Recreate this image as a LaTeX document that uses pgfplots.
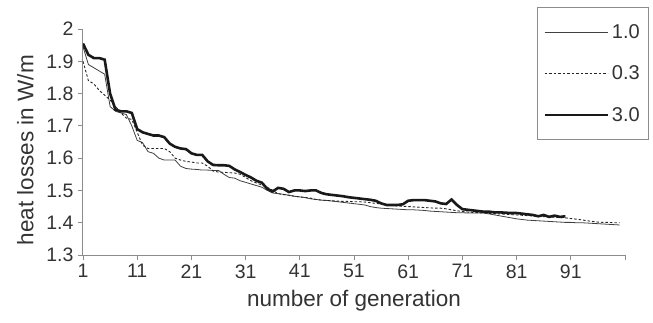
\documentclass[border=0pt]{standalone}
\usepackage{pgfplots}
\pgfplotsset{compat=1.18}
\usepackage{fontspec}
\setmainfont{Liberation Sans}
\definecolor{axgray}{RGB}{140,140,140}
\begin{document}
\begin{tikzpicture}
\begin{axis}[
  name=ax,
  scale only axis,
  width=542pt, height=226pt,
  xmin=1, xmax=101, ymin=1.3, ymax=2.0,
  axis lines=left,
  axis line style={axgray, line width=1pt, -},
  xtick={1,11,21,31,41,51,61,71,81,91,101},
  xticklabels={1,11,21,31,41,51,61,71,81,91,{}},
  ytick={1.3,1.4,1.5,1.6,1.7,1.8,1.9,2.0},
  yticklabels={1.3,1.4,1.5,1.6,1.7,1.8,1.9,2},
  tick align=outside,
  major tick length=5pt,
  tick style={axgray, line width=0.8pt},
  tick label style={font=\fontsize{19.5}{22}\selectfont, text=black!80},
  /pgf/number format/assume math mode=true,
  xticklabel style={yshift=-1pt},
  yticklabel style={xshift=-1pt},
  xlabel={number of generation},
  ylabel={heat losses in W/m},
  label style={font=\fontsize{22.5}{25}\selectfont, text=black!80},
  xlabel style={yshift=-5pt},
  ylabel style={yshift=6pt, xshift=-8pt},
  legend cell align=left,
  legend style={at={(0.8376,1.0973)}, anchor=north west, draw=axgray, line width=0.8pt,
    font=\fontsize{20}{22}\selectfont, text=black!80, row sep=20pt,
    inner xsep=6pt, inner ysep=14pt,
    nodes={inner sep=3pt}},
  legend image code/.code={\draw[#1] (0pt,0pt) -- (63pt,0pt);},
  legend style={cells={xshift=3pt}},
]
\addplot[black!75, line width=0.8pt] coordinates {
(1,1.945)(2,1.89)(3,1.88)(4,1.87)(5,1.86)(6,1.76)(7,1.745)(8,1.74)(9,1.735)(10,1.70)
(11,1.655)(12,1.648)(13,1.62)(14,1.615)(15,1.60)(16,1.594)(17,1.594)(18,1.594)(19,1.575)(20,1.568)
(21,1.566)(22,1.565)(23,1.563)(24,1.563)(25,1.562)(26,1.562)(27,1.55)(28,1.54)(29,1.538)(30,1.53)
(31,1.525)(32,1.52)(33,1.515)(34,1.51)(35,1.50)(36,1.492)(37,1.49)(38,1.488)(39,1.485)(40,1.482)
(41,1.48)(42,1.478)(43,1.474)(44,1.472)(45,1.47)(46,1.469)(47,1.467)(48,1.465)(49,1.463)(50,1.461)
(51,1.459)(52,1.457)(53,1.455)(54,1.45)(55,1.447)(56,1.445)(57,1.444)(58,1.443)(59,1.442)(60,1.441)
(61,1.44)(62,1.44)(63,1.439)(64,1.438)(65,1.436)(66,1.435)(67,1.434)(68,1.433)(69,1.432)(70,1.431)
(71,1.431)(72,1.43)(73,1.43)(74,1.43)(75,1.43)(76,1.427)(77,1.424)(78,1.421)(79,1.418)(80,1.415)
(81,1.412)(82,1.41)(83,1.408)(84,1.407)(85,1.406)(86,1.405)(87,1.404)(88,1.403)(89,1.402)(90,1.401)
(91,1.401)(92,1.40)(93,1.40)(94,1.399)(95,1.398)(96,1.397)(97,1.396)(98,1.395)(99,1.394)(100,1.393)
};
\addlegendentry{1.0}
\addplot[black!85, line width=0.9pt, dash pattern=on 2.5pt off 2pt] coordinates {
(1,1.90)(2,1.84)(3,1.83)(4,1.81)(5,1.795)(6,1.78)(7,1.76)(8,1.74)(9,1.724)(10,1.72)
(11,1.68)(12,1.64)(13,1.63)(14,1.63)(15,1.63)(16,1.63)(17,1.62)(18,1.60)(19,1.594)(20,1.59)
(21,1.588)(22,1.585)(23,1.585)(24,1.575)(25,1.56)(26,1.557)(27,1.556)(28,1.555)(29,1.554)(30,1.55)
(31,1.54)(32,1.53)(33,1.523)(34,1.517)(35,1.51)(36,1.50)(37,1.49)(38,1.487)(39,1.485)(40,1.482)
(41,1.48)(42,1.478)(43,1.476)(44,1.472)(45,1.47)(46,1.469)(47,1.468)(48,1.467)(49,1.466)(50,1.466)
(51,1.465)(52,1.465)(53,1.464)(54,1.462)(55,1.46)(56,1.458)(57,1.455)(58,1.454)(59,1.452)(60,1.451)
(61,1.45)(62,1.449)(63,1.448)(64,1.447)(65,1.446)(66,1.445)(67,1.445)(68,1.443)(69,1.44)(70,1.437)
(71,1.435)(72,1.433)(73,1.432)(74,1.431)(75,1.43)(76,1.429)(77,1.428)(78,1.427)(79,1.426)(80,1.425)
(81,1.424)(82,1.423)(83,1.422)(84,1.421)(85,1.42)(86,1.419)(87,1.418)(88,1.417)(89,1.416)(90,1.415)
(91,1.413)(92,1.411)(93,1.409)(94,1.406)(95,1.404)(96,1.402)(97,1.401)(98,1.401)(99,1.40)(100,1.40)
};
\addlegendentry{0.3}
\addplot[black!90, line width=2.6pt] coordinates {
(1,1.955)(2,1.92)(3,1.91)(4,1.91)(5,1.905)(6,1.80)(7,1.75)(8,1.745)(9,1.745)(10,1.74)
(11,1.69)(12,1.68)(13,1.675)(14,1.67)(15,1.67)(16,1.665)(17,1.645)(18,1.635)(19,1.63)(20,1.628)
(21,1.615)(22,1.61)(23,1.61)(24,1.59)(25,1.579)(26,1.578)(27,1.578)(28,1.576)(29,1.565)(30,1.557)
(31,1.548)(32,1.54)(33,1.53)(34,1.524)(35,1.505)(36,1.497)(37,1.508)(38,1.505)(39,1.495)(40,1.50)
(41,1.50)(42,1.498)(43,1.50)(44,1.50)(45,1.492)(46,1.488)(47,1.486)(48,1.484)(49,1.482)(50,1.479)
(51,1.477)(52,1.475)(53,1.473)(54,1.471)(55,1.468)(56,1.46)(57,1.455)(58,1.455)(59,1.455)(60,1.457)
(61,1.468)(62,1.47)(63,1.47)(64,1.47)(65,1.468)(66,1.466)(67,1.46)(68,1.458)(69,1.472)(70,1.455)
(71,1.442)(72,1.44)(73,1.438)(74,1.436)(75,1.434)(76,1.434)(77,1.432)(78,1.432)(79,1.431)(80,1.43)
(81,1.43)(82,1.428)(83,1.426)(84,1.424)(85,1.42)(86,1.424)(87,1.418)(88,1.422)(89,1.418)(90,1.42)
};
\addlegendentry{3.0}
\end{axis}
\pgfresetboundingbox
\path (ax.south west) ++(-83pt,-67pt) rectangle ++(653pt,322pt);
\end{tikzpicture}
\end{document}
